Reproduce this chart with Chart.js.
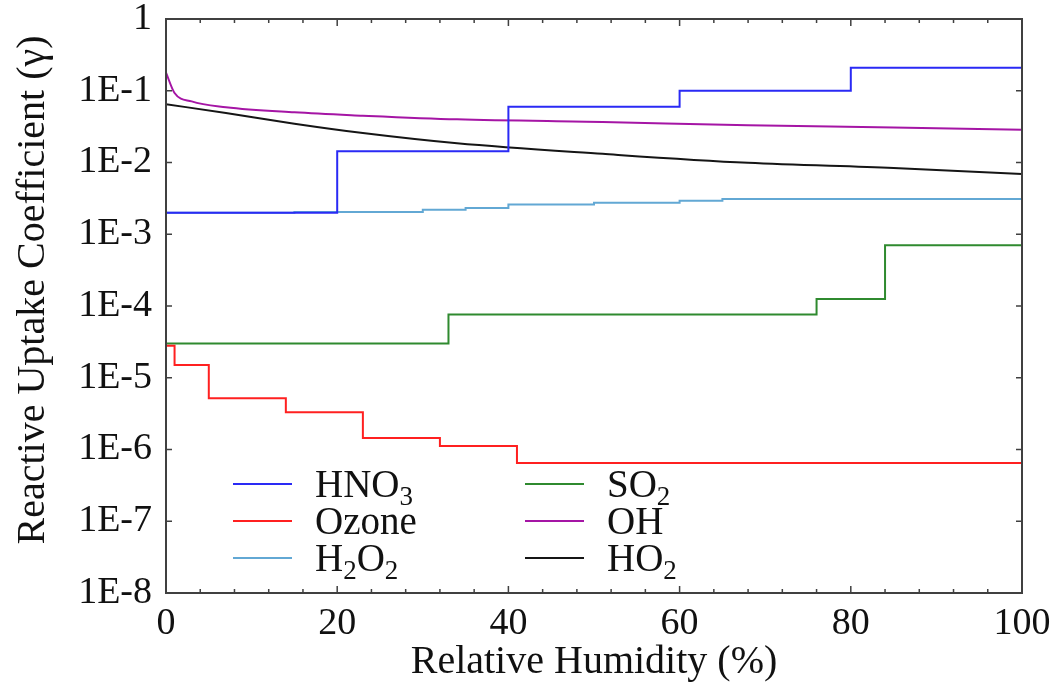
<!DOCTYPE html>
<html>
<head>
<meta charset="utf-8">
<script src="https://cdn.jsdelivr.net/npm/chart.js@4/dist/chart.umd.min.js"></script>
<style>
  html, body { margin: 0; padding: 0; background: #fff; }
  #contenedor { width: 1059px; height: 692px; }
</style>
</head>
<body>
<div id="contenedor"><canvas id="graficoUptake"></canvas></div>
<script>
// datos (RH en %, gamma)
const seriesNames = ['HNO3', 'Ozone', 'H2O2', 'SO2', 'OH', 'HO2'];
const seriesColors = ['#2a2af5', '#ff2020', '#62a8d4', '#2f8a2f', '#a515a5', '#151515'];

const hno3RH = [0, 20, 40, 60, 80, 100];
const hno3Gamma = [0.0020, 0.0143, 0.060, 0.100, 0.210, 0.210];

const ozoneRH = [0, 1, 5, 14, 23, 32, 41, 100];
const ozoneGamma = [2.8e-5, 1.5e-5, 5.2e-6, 3.3e-6, 1.45e-6, 1.12e-6, 6.5e-7, 6.5e-7];

const h2o2RH = [0, 15, 30, 35, 40, 50, 60, 65, 100];
const h2o2Gamma = [0.00200, 0.00205, 0.00220, 0.00233, 0.00260, 0.00275, 0.00292, 0.00310, 0.00310];

const so2RH = [0, 33, 76, 84, 100];
const so2Gamma = [3.0e-5, 7.6e-5, 1.25e-4, 7.0e-4, 7.0e-4];

const ohRH = [0, 1, 3, 7, 15, 23, 34, 51, 68, 85, 100];
const ohGamma = [0.179, 0.093, 0.071, 0.059, 0.050, 0.045, 0.040, 0.0366, 0.0330, 0.0308, 0.0286];

const ho2RH = [0, 7, 15, 23, 34, 51, 68, 85, 100];
const ho2Gamma = [0.065, 0.0488, 0.0347, 0.0257, 0.0185, 0.0132, 0.0099, 0.0084, 0.0069];

const xTicks = [0, 20, 40, 60, 80, 100];
const yTickValues = [1, 1e-1, 1e-2, 1e-3, 1e-4, 1e-5, 1e-6, 1e-7, 1e-8];
const yTickLabels = ['1', '1E-1', '1E-2', '1E-3', '1E-4', '1E-5', '1E-6', '1E-7', '1E-8'];

const tituloX = 'Relative Humidity (%)';
const tituloY = 'Reactive Uptake Coefficient (\u03b3)';

const fuente = '"Liberation Serif", "Times New Roman", serif';

function puntos(xs, ys) {
  return xs.map((x, i) => ({ x: x, y: ys[i] }));
}

const datosSeries = [
  { data: puntos(hno3RH, hno3Gamma), stepped: 'before' },
  { data: puntos(ozoneRH, ozoneGamma), stepped: 'before' },
  { data: puntos(h2o2RH, h2o2Gamma), stepped: 'before' },
  { data: puntos(so2RH, so2Gamma), stepped: 'before' },
  { data: puntos(ohRH, ohGamma), stepped: false },
  { data: puntos(ho2RH, ho2Gamma), stepped: false }
];

// marco con ticks hacia adentro en los cuatro lados
const marco = {
  id: 'marco',
  afterDatasetsDraw(chart) {
    const { ctx, chartArea: a, scales } = chart;
    ctx.save();
    ctx.strokeStyle = '#404040';
    ctx.lineWidth = 1.5;
    ctx.beginPath();
    for (let v = 0; v <= 100; v += 4) {
      const px = scales.x.getPixelForValue(v);
      const len = (v % 20 === 0) ? 7 : 4;
      ctx.moveTo(px, a.bottom); ctx.lineTo(px, a.bottom - len);
      ctx.moveTo(px, a.top); ctx.lineTo(px, a.top + len);
    }
    yTickValues.forEach(v => {
      const py = scales.y.getPixelForValue(v);
      ctx.moveTo(a.left, py); ctx.lineTo(a.left + 6, py);
      ctx.moveTo(a.right, py); ctx.lineTo(a.right - 6, py);
    });
    ctx.stroke();
    ctx.lineWidth = 2;
    ctx.strokeRect(a.left, a.top, a.right - a.left, a.bottom - a.top);

    // titulo del eje y, un poco por encima del centro como en el original
    ctx.translate(33, (a.top + a.bottom) / 2 - 16);
    ctx.rotate(-Math.PI / 2);
    ctx.font = '40px ' + fuente;
    ctx.fillStyle = '#111';
    ctx.textAlign = 'center';
    ctx.textBaseline = 'middle';
    ctx.fillText(tituloY, 0, 0);
    ctx.restore();
  }
};

// leyenda en dos columnas, digitos como subindices
const leyenda = {
  id: 'leyenda',
  afterDatasetsDraw(chart) {
    const { ctx, chartArea: a } = chart;
    ctx.save();
    ctx.textBaseline = 'alphabetic';
    ctx.textAlign = 'left';
    seriesNames.forEach((nombre, i) => {
      const col = Math.floor(i / 3);
      const fila = i % 3;
      const x0 = a.left + 67 + col * 292;
      const y0 = a.top + 465 + fila * 37;
      ctx.strokeStyle = seriesColors[i];
      ctx.lineWidth = 2;
      ctx.beginPath();
      ctx.moveTo(x0, y0); ctx.lineTo(x0 + 59, y0);
      ctx.stroke();
      let tx = x0 + 82;
      ctx.fillStyle = '#111';
      for (const c of nombre) {
        if (/[0-9]/.test(c)) {
          ctx.font = '27px ' + fuente;
          ctx.fillText(c, tx, y0 + 21);
        } else {
          ctx.font = '39px ' + fuente;
          ctx.fillText(c, tx, y0 + 13);
        }
        tx += ctx.measureText(c).width;
      }
    });
    ctx.restore();
  }
};

const ctx = document.getElementById('graficoUptake').getContext('2d');
const grafico = new Chart(ctx, {
  type: 'line',
  data: {
    datasets: datosSeries.map((s, i) => ({
      label: seriesNames[i],
      data: s.data,
      stepped: s.stepped,
      borderColor: seriesColors[i],
      backgroundColor: seriesColors[i],
      borderWidth: 2,
      pointRadius: 0,
      tension: s.stepped ? 0 : 0.4,
      cubicInterpolationMode: s.stepped ? 'default' : 'monotone'
    }))
  },
  options: {
    responsive: true,
    maintainAspectRatio: false,
    animation: false,
    layout: { padding: { top: 19, right: 37, left: 0, bottom: 0 } },
    plugins: {
      legend: { display: false },
      tooltip: { enabled: false }
    },
    scales: {
      x: {
        type: 'linear',
        min: 0,
        max: 100,
        afterBuildTicks: (scale) => { scale.ticks = xTicks.map(v => ({ value: v })); },
        afterFit: (scale) => {
          scale.height = 99;
          scale.paddingLeft = 0;
          scale.paddingRight = 0;
        },
        grid: { display: false, drawTicks: false },
        border: { display: false },
        ticks: {
          padding: 8,
          color: '#111',
          font: { family: fuente, size: 38 },
          maxRotation: 0,
          autoSkip: false
        },
        title: {
          display: true,
          text: tituloX,
          color: '#111',
          font: { family: fuente, size: 40 },
          padding: { top: 0, bottom: 6 }
        }
      },
      y: {
        type: 'logarithmic',
        min: 1e-8,
        max: 1,
        afterBuildTicks: (scale) => { scale.ticks = yTickValues.map(v => ({ value: v })); },
        afterFit: (scale) => {
          scale.width = 166;
          scale.paddingTop = 0;
          scale.paddingBottom = 0;
        },
        grid: { display: false, drawTicks: false },
        border: { display: false },
        ticks: {
          autoSkip: false,
          padding: 14,
          color: '#111',
          font: { family: fuente, size: 38 },
          callback: (v) => {
            const k = yTickValues.findIndex(t => Math.abs(Math.log10(t) - Math.log10(v)) < 1e-6);
            return k >= 0 ? yTickLabels[k] : '';
          }
        },
        title: { display: false }
      }
    }
  },
  plugins: [marco, leyenda]
});
</script>
</body>
</html>
